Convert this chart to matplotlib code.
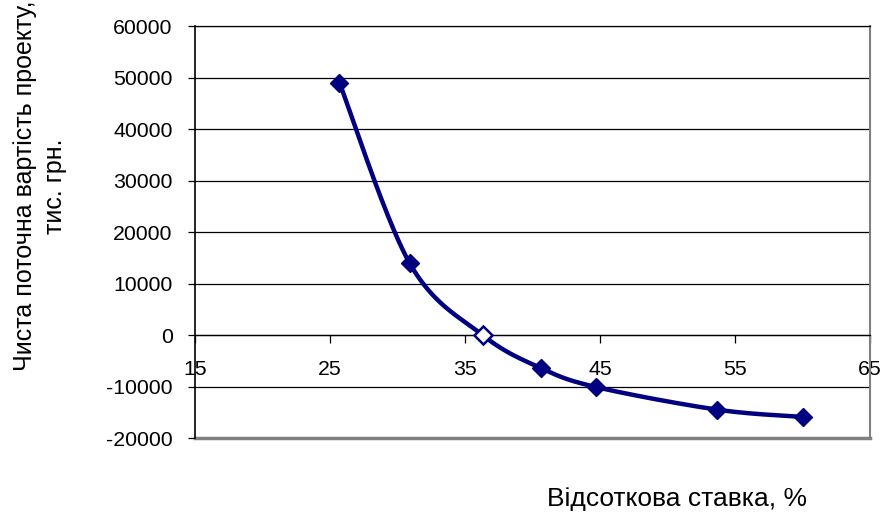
import numpy as np
import matplotlib.pyplot as plt

plt.rcParams['font.family'] = ['Liberation Sans', 'DejaVu Sans']
plt.rcParams['axes.unicode_minus'] = False

# Data
rate_pct = [25.7, 30.9, 36.3, 40.6, 44.7, 53.7, 60.0]
npv_k = [49000, 13950, 0, -6400, -10100, -14500, -15900]
irr_index = 2  # the break-even point drawn with a hollow marker

x_ticks = [15, 25, 35, 45, 55, 65]
y_ticks = [-20000, -10000, 0, 10000, 20000, 30000, 40000, 50000, 60000]

NAVY = '#000080'
X_LIM = (15, 65)
Y_LIM = (-20000, 60000)


def smooth_curve(xs, ys, ax_w, ax_h, n=40):
    """Excel-like smoothed line (Catmull-Rom Bezier) in screen-proportional space."""
    sx = ax_w / (X_LIM[1] - X_LIM[0])
    sy = ax_h / (Y_LIM[1] - Y_LIM[0])
    p = np.column_stack([np.asarray(xs) * sx, np.asarray(ys) * sy])
    out = []
    t = np.linspace(0, 1, n)[:, None]
    for i in range(len(p) - 1):
        p0 = p[i - 1] if i > 0 else p[i]
        p3 = p[i + 2] if i + 2 < len(p) else p[i + 1]
        c1 = p[i] + (p[i + 1] - p0) / 6
        c2 = p[i + 1] - (p3 - p[i]) / 6
        seg = ((1 - t) ** 3 * p[i] + 3 * (1 - t) ** 2 * t * c1
               + 3 * (1 - t) * t ** 2 * c2 + t ** 3 * p[i + 1])
        out.append(seg if i == 0 else seg[1:])
    out = np.vstack(out)
    return out[:, 0] / sx, out[:, 1] / sy


fig = plt.figure(figsize=(8.83, 5.15), dpi=100)
ax = fig.add_axes([0.2208, 0.1495, 0.7645, 0.80])

ax.set_xlim(*X_LIM)
ax.set_ylim(*Y_LIM)
ax.set_xticks(x_ticks)
ax.set_yticks(y_ticks)

for y in y_ticks:
    ax.axhline(y, color='black', lw=0.9, zorder=1)

# frame: black value axis, category axis crossing at 0, gray plot-area border
ax.spines['left'].set_color('black')
ax.spines['left'].set_linewidth(1.2)
ax.spines['bottom'].set_position(('data', 0))
ax.spines['bottom'].set_color('black')
ax.spines['bottom'].set_linewidth(0.9)
ax.spines['top'].set_color('black')
ax.spines['top'].set_linewidth(0.9)
ax.spines['right'].set_color('#808080')
ax.spines['right'].set_linewidth(1.5)
ax.axhline(Y_LIM[0], color='#808080', lw=2.5, zorder=1, clip_on=False)

ax.tick_params(axis='x', direction='out', length=6, width=0.9, pad=12,
               labelsize=15.3)
ax.tick_params(axis='y', direction='out', length=5, width=0.9, pad=11,
               labelsize=15.3)

ax_w = 0.7645 * 883
ax_h = 0.80 * 515
cx, cy = smooth_curve(rate_pct, npv_k, ax_w, ax_h)
ax.plot(cx, cy, color=NAVY, lw=3.2, zorder=3, solid_capstyle='round')

filled = [i for i in range(len(rate_pct)) if i != irr_index]
ax.plot([rate_pct[i] for i in filled], [npv_k[i] for i in filled],
        linestyle='none', marker='D', ms=9, color=NAVY, zorder=4)
ax.plot([rate_pct[irr_index]], [npv_k[irr_index]], linestyle='none',
        marker='D', ms=9, mfc='white', mec=NAVY, mew=1.8, zorder=5)

fig.text(40 / 883, 1 - 186 / 515, 'Чиста поточна вартість проекту,\nтис. грн.',
         rotation=90, ha='center', va='center', multialignment='center',
         fontsize=18, linespacing=1.3)
fig.text(677 / 883, 1 - 499 / 515, 'Відсоткова ставка, %',
         ha='center', va='center', fontsize=19)

fig.savefig('out.png', dpi=100)
